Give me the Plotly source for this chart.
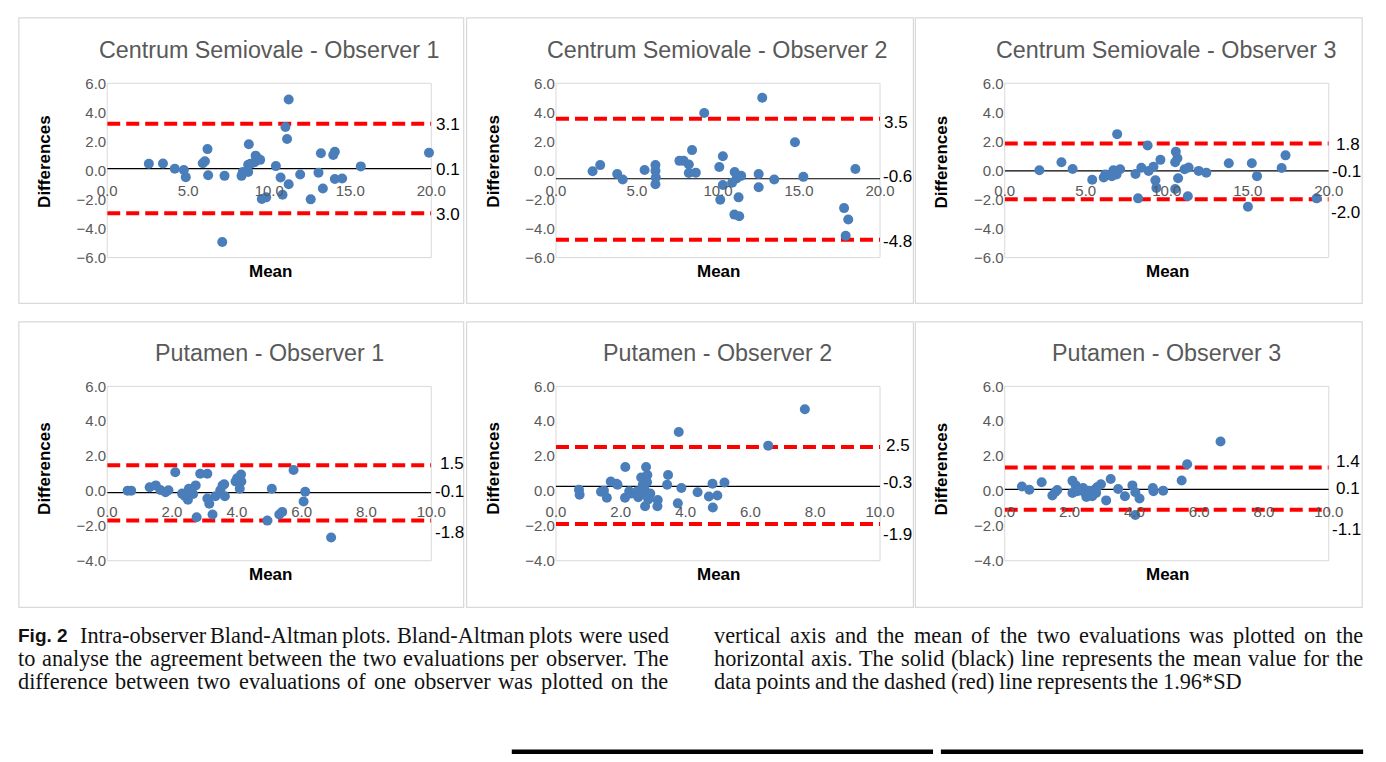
import plotly.graph_objects as go

W, H = 1386, 762

# ---------------- data ----------------
panel_titles = ["Centrum Semiovale - Observer 1", "Centrum Semiovale - Observer 2",
                "Centrum Semiovale - Observer 3", "Putamen - Observer 1",
                "Putamen - Observer 2", "Putamen - Observer 3"]
x_axis_title = "Mean"
y_axis_title = "Differences"

cs1_mean = [2.57, 3.44, 4.17, 4.73, 4.85, 5.90, 6.03, 6.19, 6.23, 7.24, 7.10, 8.29, 8.37, 8.70,
            8.74, 8.70, 8.84, 9.10, 9.16, 9.28, 9.44, 9.54, 9.81, 10.41, 10.70, 10.82, 11.00,
            11.10, 11.20, 11.20, 11.91, 12.56, 13.04, 13.19, 13.31, 13.95, 14.05, 14.05, 14.50,
            15.65, 19.86]
cs1_diff = [0.46, 0.48, 0.12, 0.03, -0.46, 0.50, 0.64, 1.47, -0.33, -0.37, -4.92, -0.37, -0.10,
            -0.10, 1.81, 0.39, 0.46, 0.57, 1.02, 0.84, 0.73, -1.96, -1.85, 0.30, -0.48, -1.67,
            2.99, 2.16, 4.88, -0.95, -0.28, -1.99, -0.15, 1.18, -1.24, 1.07, 1.29, -0.59, -0.55,
            0.28, 1.22]

cs2_mean = [2.26, 2.73, 3.78, 4.12, 5.47, 6.14, 6.14, 6.16, 6.14, 7.62, 7.88, 8.20, 8.20, 8.40,
            8.63, 9.15, 10.08, 10.30, 10.14, 10.30, 10.87, 11.03, 11.15, 11.43, 11.27, 11.01,
            11.31, 12.51, 12.51, 12.73, 13.47, 14.75, 15.27, 17.78, 18.04, 17.88, 18.48]
cs2_diff = [-0.06, 0.37, -0.24, -0.62, 0.03, 0.37, -0.03, -0.48, -0.95, 0.66, 0.66, 0.41, -0.17,
            1.40, -0.15, 3.96, 0.24, 0.98, -2.01, -1.00, -0.84, -0.10, -0.55, -0.37, -1.85,
            -3.04, -3.15, -0.24, -1.16, 5.01, -0.62, 1.94, -0.44, -2.59, -3.38, -4.50, 0.10]

cs3_mean = [2.14, 3.50, 4.19, 5.40, 6.11, 6.21, 6.61, 6.71, 6.94, 6.90, 7.12, 8.07, 8.23, 8.43,
            8.82, 8.88, 9.18, 9.30, 9.36, 9.61, 10.52, 10.56, 10.52, 10.66, 10.70, 11.10, 11.35,
            11.30, 11.97, 12.44, 13.83, 15.01, 15.25, 15.57, 17.09, 17.33, 19.25]
cs3_diff = [0.01, 0.57, 0.10, -0.64, -0.48, -0.28, -0.39, 0.01, 2.50, -0.28, 0.08, -0.24, -1.92,
            0.19, 1.72, -0.03, 0.26, -0.68, -1.20, 0.73, -1.27, 1.29, 0.57, 0.84, -0.53, 0.08,
            0.21, -1.78, -0.03, -0.15, 0.50, -2.50, 0.50, -0.39, 0.17, 1.04, -1.92]

put1_mean = [0.63, 0.74, 1.31, 1.50, 1.64, 1.80, 1.89, 2.10, 2.31, 2.40, 2.49, 2.52, 2.65, 2.73,
             2.76, 2.87, 3.09, 3.09, 3.15, 3.25, 3.34, 3.49, 3.56, 3.61, 3.63, 3.96, 4.01, 4.13,
             4.14, 4.09, 4.94, 5.08, 5.31, 5.40, 5.75, 6.06, 6.11, 6.91]
put1_diff = [0.02, 0.02, 0.21, 0.32, 0.06, -0.07, 0.04, 1.07, -0.15, -0.30, -0.50, 0.13, -0.17,
             0.32, -1.51, 0.99, 0.99, -0.43, -0.73, -1.35, -0.30, 0.04, 0.32, 0.39, -0.30, 0.54,
             0.73, 0.95, 0.54, 0.13, -1.70, 0.13, -1.35, -1.20, 1.20, -0.60, -0.04, -2.67]

put2_mean = [0.71, 0.73, 1.39, 1.48, 1.57, 1.69, 1.87, 1.90, 2.14, 2.13, 2.26, 2.32, 2.51, 2.54,
             2.63, 2.68, 2.73, 2.78, 2.82, 2.81, 2.79, 2.75, 2.91, 2.85, 3.14, 3.13, 3.43, 3.46,
             3.76, 3.79, 3.87, 4.37, 4.72, 4.83, 4.84, 4.98, 5.20, 6.55, 7.68]
put2_diff = [0.07, -0.22, -0.04, 0.02, -0.39, 0.54, 0.41, 0.36, 1.38, -0.39, -0.02, -0.15, -0.02,
             -0.36, 0.77, 0.36, 0.09, 1.38, 0.92, 0.50, -0.21, -0.88, -0.15, -0.49, -0.52, -0.88,
             0.36, 0.92, -0.71, 3.38, 0.17, -0.07, -0.32, 0.41, -0.95, -0.26, 0.49, 2.60, 4.69]

put3_mean = [0.53, 0.76, 1.14, 1.47, 1.56, 1.62, 2.09, 2.09, 2.19, 2.24, 2.35, 2.42, 2.48, 2.52,
             2.60, 2.70, 2.77, 2.82, 2.85, 2.97, 3.13, 3.27, 3.50, 3.71, 3.94, 4.03, 4.03, 4.16,
             4.57, 4.59, 4.89, 5.46, 5.63, 6.66]
put3_diff = [0.26, 0.07, 0.50, -0.26, -0.06, 0.06, 0.58, -0.11, 0.32, -0.02, 0.04, 0.17, -0.11,
             -0.34, 0.02, -0.30, 0.07, -0.11, 0.21, 0.39, -0.54, 0.69, 0.11, -0.30, 0.32, -0.07,
             -1.38, -0.43, 0.17, -0.02, 0.02, 0.60, 1.53, 2.84]

# Bland-Altman reference lines: [upper limit, mean, lower limit]
cs1_limits = [3.22, 0.12, -2.95]
cs2_limits = [3.56, -0.57, -4.77]
cs3_limits = [1.85, -0.03, -1.99]
put1_limits = [1.48, -0.09, -1.70]
put2_limits = [2.52, 0.26, -1.89]
put3_limits = [1.35, 0.09, -1.08]

# value labels at the right of each plot (as printed) and the height they sit at
cs1_labels, cs1_label_y = ["3.1", "0.1", "3.0"], [3.18, 0.08, -3.02]
cs2_labels, cs2_label_y = ["3.5", "-0.6", "-4.8"], [3.31, -0.44, -4.90]
cs3_labels, cs3_label_y = ["1.8", "-0.1", "-2.0"], [1.81, -0.05, -2.90]
put1_labels, put1_label_y = ["1.5", "-0.1", "-1.8"], [1.55, -0.02, -2.41]
put2_labels, put2_label_y = ["2.5", "-0.3", "-1.9"], [2.60, 0.49, -2.48]
put3_labels, put3_label_y = ["1.4", "0.1", "-1.1"], [1.67, 0.17, -2.20]

# axis ticks per row
cs_x_ticks = [0, 5, 10, 15, 20]
cs_y_ticks = [-6, -4, -2, 0, 2, 4, 6]
put_x_ticks = [0, 2, 4, 6, 8, 10]
put_y_ticks = [-4, -2, 0, 2, 4, 6]

caption_left = [
    "Intra-observer Bland-Altman plots. Bland-Altman plots were used",
    "to analyse the agreement between the two evaluations per observer. The",
    "difference between two evaluations of one observer was plotted on the",
]
caption_right = [
    "vertical axis and the mean of the two evaluations was plotted on the",
    "horizontal axis. The solid (black) line represents the mean value for the",
    "data points and the dashed (red) line represents the 1.96*SD",
]
fig_label = "Fig. 2"

# ---------------- styling / layout constants ----------------
SANS = "Liberation Sans, Arial, sans-serif"
SERIF = "Liberation Serif, Times New Roman, serif"
GRAY = "#595959"
BORDER = "#d9d9d9"
BLUE = "#4a7ebb"

panels = [
    (cs1_mean, cs1_diff, cs1_limits, cs1_labels, cs1_label_y, [5, 5, 5]),
    (cs2_mean, cs2_diff, cs2_limits, cs2_labels, cs2_label_y, [4, 2.7, 2.7]),
    (cs3_mean, cs3_diff, cs3_limits, cs3_labels, cs3_label_y, [7, 3, 2]),
    (put1_mean, put1_diff, put1_limits, put1_labels, put1_label_y, [9, 3.7, 3.7]),
    (put2_mean, put2_diff, put2_limits, put2_labels, put2_label_y, [6, 2.7, 2.7]),
    (put3_mean, put3_diff, put3_limits, put3_labels, put3_label_y, [7, 7, 3]),
]
row_x_ticks = [cs_x_ticks, put_x_ticks]
row_y_ticks = [cs_y_ticks, put_y_ticks]

col_left = [99, 556, 1013]
row_top = [76, 386]
plot_w, plot_h = 330, 178.3
box_x = [(9, 462), (465, 920), (922, 1377)]
box_y = [(9, 301), (320, 612)]
title_y = [41.7, 351.7]
mean_title_y = [268, 578]
diff_title_y = [156, 470]


def px(x):
    return x / W


def py(y):
    return 1 - y / H


fig = go.Figure()
annotations = []
shapes = []

for i, (mx, dy, lims, labs, lab_y, lab_dx) in enumerate(panels):
    r, c = divmod(i, 3)
    n = i + 1
    xa = "x" if n == 1 else f"x{n}"
    ya = "y" if n == 1 else f"y{n}"
    xt, yt = row_x_ticks[r], row_y_ticks[r]
    xr = [xt[0], xt[-1]]
    yr = [yt[0], yt[-1]]
    left, right = col_left[c], col_left[c] + plot_w
    top, bottom = row_top[r], row_top[r] + plot_h
    dom_x = [px(left), px(right)]
    dom_y = [py(bottom), py(top)]
    zero_pos = dom_y[0] + (0 - yr[0]) / (yr[1] - yr[0]) * (dom_y[1] - dom_y[0])

    # limit lines (red dashed) and mean line (black)
    for k, v in enumerate(lims):
        if k == 1:
            line = dict(color="black", width=1.2)
        else:
            line = dict(color="#ff0000", width=4, dash="13px,6px")
        fig.add_trace(go.Scatter(x=xr, y=[v, v], mode="lines", line=line,
                                 xaxis=xa, yaxis=ya, showlegend=False, hoverinfo="skip"))
    # data points
    fig.add_trace(go.Scatter(x=mx, y=dy, mode="markers",
                             marker=dict(color=BLUE, size=10, line=dict(width=0)),
                             xaxis=xa, yaxis=ya, showlegend=False, cliponaxis=False))

    fig.update_layout(**{
        f"xaxis{'' if n == 1 else n}": dict(
            domain=dom_x, range=xr, anchor="free", position=zero_pos,
            tickvals=xt, tickformat=".1f", showgrid=False, zeroline=False, showline=False,
            ticks="", ticklabelstandoff=10, tickfont=dict(family=SANS, size=15, color=GRAY),
            fixedrange=True),
        f"yaxis{'' if n == 1 else n}": dict(
            domain=dom_y, range=yr, anchor=xa,
            tickvals=yt, tickformat=".1f", showgrid=False, zeroline=False, showline=False,
            ticks="", tickfont=dict(family=SANS, size=15, color=GRAY), fixedrange=True),
    })

    # plot area box and chart border
    shapes.append(dict(type="rect", xref=f"{xa} domain", yref=f"{ya} domain",
                       x0=0, x1=1, y0=0, y1=1, line=dict(color=BORDER, width=1), layer="below"))
    bx0, bx1 = box_x[c]
    by0, by1 = box_y[r]
    shapes.append(dict(type="rect", xref="paper", yref="paper", x0=px(bx0), x1=px(bx1),
                       y0=py(by1), y1=py(by0), line=dict(color=BORDER, width=1.2), layer="below"))

    cx = (left + right) / 2
    annotations.append(dict(text=panel_titles[i], x=px(cx), y=py(title_y[r]), xref="paper",
                            yref="paper", xanchor="center", yanchor="middle", showarrow=False,
                            font=dict(family=SANS, size=23.3, color=GRAY)))
    annotations.append(dict(text=f"<b>{x_axis_title}</b>", x=px(cx + 1), y=py(mean_title_y[r]),
                            xref="paper", yref="paper", xanchor="center", yanchor="middle",
                            showarrow=False, font=dict(family=SANS, size=17, color="black")))
    annotations.append(dict(text=f"<b>{y_axis_title}</b>", x=px(left - 64), y=py(diff_title_y[r]),
                            xref="paper", yref="paper", xanchor="center", yanchor="middle",
                            textangle=-90, showarrow=False,
                            font=dict(family=SANS, size=17, color="black")))
    for lab, ly, dx in zip(labs, lab_y, lab_dx):
        annotations.append(dict(text=lab, x=px(right + dx), y=ly, xref="paper", yref=ya,
                                xanchor="left", yanchor="middle", showarrow=False,
                                borderpad=0, borderwidth=0,
                                font=dict(family=SANS, size=17, color="black")))

# ---------------- caption (justified like the journal page) ----------------
TIMES_W = {' ': 250, '!': 333, '(': 333, ')': 333, '*': 500, ',': 250, '-': 333, '.': 250,
           '0': 500, '1': 500, '2': 500, '3': 500, '4': 500, '5': 500, '6': 500, '7': 500,
           '8': 500, '9': 500, ':': 278, ';': 278,
           'A': 722, 'B': 667, 'C': 667, 'D': 722, 'E': 611, 'F': 556, 'G': 722, 'H': 722,
           'I': 333, 'J': 389, 'K': 722, 'L': 611, 'M': 889, 'N': 722, 'O': 722, 'P': 556,
           'Q': 722, 'R': 667, 'S': 556, 'T': 611, 'U': 722, 'V': 722, 'W': 944, 'X': 722,
           'Y': 722, 'Z': 611,
           'a': 444, 'b': 500, 'c': 444, 'd': 500, 'e': 444, 'f': 333, 'g': 500, 'h': 500,
           'i': 278, 'j': 278, 'k': 500, 'l': 278, 'm': 778, 'n': 500, 'o': 500, 'p': 500,
           'q': 500, 'r': 333, 's': 389, 't': 278, 'u': 500, 'v': 500, 'w': 722, 'x': 500,
           'y': 500, 'z': 444}
CAP_SIZE = 22.3


def tw(s):
    return sum(TIMES_W.get(ch, 500) for ch in s) * CAP_SIZE / 1000


def place_line(text, x_left, x_right, y, justify):
    words = text.split()
    widths = [tw(w) for w in words]
    if justify and len(words) > 1:
        gap = (x_right - x_left - sum(widths)) / (len(words) - 1)
    else:
        gap = tw(" ")
    x = x_left
    for w, wd in zip(words, widths):
        annotations.append(dict(text=w, x=px(x), y=py(y), xref="paper", yref="paper",
                                xanchor="left", yanchor="middle", showarrow=False,
                                borderpad=0, borderwidth=0,
                                font=dict(family=SERIF, size=CAP_SIZE, color="#111111")))
        x += wd + gap


cap_y = [641, 664.5, 688]
annotations.append(dict(text=f"<b>{fig_label}</b>", x=px(8), y=py(cap_y[0]), xref="paper",
                        yref="paper", xanchor="left", yanchor="middle", showarrow=False,
                        borderpad=0, borderwidth=0,
                        font=dict(family=SANS, size=19, color="#111111")))
place_line(caption_left[0], 71, 670, cap_y[0], True)
place_line(caption_left[1], 8, 670, cap_y[1], True)
place_line(caption_left[2], 8, 670, cap_y[2], True)
place_line(caption_right[0], 717, 1378, cap_y[0], True)
place_line(caption_right[1], 717, 1378, cap_y[1], True)
place_line(caption_right[2], 717, 1378, cap_y[2], False)

# black rules at the bottom of the page
for x0, x1 in [(511, 940), (948, 1378)]:
    shapes.append(dict(type="rect", xref="paper", yref="paper", x0=px(x0), x1=px(x1),
                       y0=py(762), y1=py(757.5), fillcolor="black", line=dict(width=0)))

fig.update_layout(width=W, height=H, margin=dict(l=0, r=0, t=0, b=0),
                  paper_bgcolor="white", plot_bgcolor="white",
                  annotations=annotations, shapes=shapes, showlegend=False)

fig.write_html("out.html", config={"displayModeBar": False},
               post_script="document.body.style.margin='0px';"
                           "document.body.style.padding='0px';")
